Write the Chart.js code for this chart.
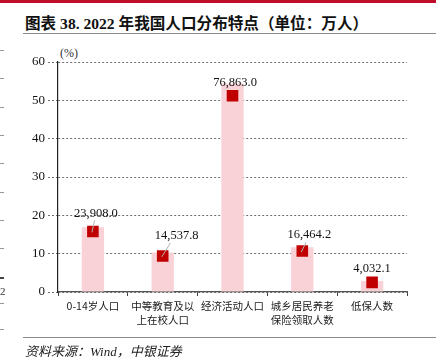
<!DOCTYPE html>
<html><head><meta charset="utf-8">
<script src="https://cdn.jsdelivr.net/npm/chart.js@4.4.1/dist/chart.umd.min.js"></script>
<style>
html,body{margin:0;padding:0;background:#fff;}
#wrap{position:relative;width:436px;height:364px;overflow:hidden;background:#fff;}
#topbar{position:absolute;left:0;top:0;width:436px;height:3px;background:#c00d2b;}
#title{position:absolute;left:25px;top:11px;font:bold 15.6px "Liberation Serif","Noto Sans CJK SC",serif;color:#111;white-space:nowrap;}
#rule1{position:absolute;left:23px;top:33px;width:413px;height:1px;background:#8a8a8a;}
#rule2{position:absolute;left:23px;top:337px;width:413px;height:1px;background:#8a8a8a;}
#src{position:absolute;left:25px;top:341px;font:italic 13px "Liberation Serif","Noto Sans CJK SC",serif;color:#222;white-space:nowrap;}
#unit{position:absolute;left:60px;top:46px;font:12px "Liberation Serif","Noto Sans CJK SC",serif;color:#333;}
.dash{position:absolute;left:0;width:4px;height:1px;background:#999;}
canvas{position:absolute;left:0;top:0;}
</style></head>
<body>
<div id="wrap">
  <div id="topbar"></div>
  <div id="title">图表 38. 2022 年我国人口分布特点（单位：万人）</div>
  <div id="rule1"></div>
  <div id="unit">(%)</div>
  <canvas id="c" width="436" height="364"></canvas>
  <div id="rule2"></div>
  <div id="src">资料来源：Wind，中银证券</div>
  <div class="dash" style="top:50px"></div>
  <div class="dash" style="top:78px"></div>
  <div class="dash" style="top:107px"></div>
  <div class="dash" style="top:135px"></div>
  <div class="dash" style="top:163px"></div>
  <div class="dash" style="top:192px"></div>
  <div class="dash" style="top:220px"></div>
  <div class="dash" style="top:248px"></div>
  <div class="dash" style="top:277px;height:2px;background:#444"></div>
  <div style="position:absolute;left:0;top:285px;font:11px 'Liberation Serif',serif;color:#333;">2</div>
  <div class="dash" style="top:303px"></div>
  <div class="dash" style="top:329px"></div>
</div>
<script>
const categories = ["0-14岁人口", ["中等教育及以", "上在校人口"], "经济活动人口", ["城乡居民养老", "保险领取人数"], "低保人数"];
const sharePct = [16.9, 10.3, 54.4, 11.7, 2.9];
const markerPct = [15.8, 9.4, 51.2, 10.7, 2.5];
const headcount = [23908.0, 14537.8, 76863.0, 16464.2, 4032.1];
const yTicks = [0, 10, 20, 30, 40, 50, 60];

// label offsets (styling) relative to marker, and whether to draw a leader line
const labelOffsets = [[3, -18, true], [14, -20, true], [2.5, -13, false], [7, -16, true], [0, -13.5, false]];

const labelPlugin = {
  id: 'labels',
  afterDatasetsDraw(chart) {
    const ctx = chart.ctx;
    const meta = chart.getDatasetMeta(1);
    ctx.save();
    ctx.font = '12.5px "Liberation Serif", serif';
    ctx.textAlign = 'center';
    ctx.textBaseline = 'middle';
    meta.data.forEach((pt, i) => {
      const [dx, dy, line] = labelOffsets[i];
      const lx = pt.x + dx, ly = pt.y + dy;
      if (line) {
        ctx.strokeStyle = '#b0b0b0';
        ctx.lineWidth = 1;
        ctx.beginPath();
        ctx.moveTo(lx - dx * 0.45, ly + 7);
        ctx.lineTo(pt.x - 1, pt.y + 1);
        ctx.stroke();
      }
      ctx.fillStyle = '#111';
      const txt = headcount[i].toLocaleString('en-US', {minimumFractionDigits: 1, maximumFractionDigits: 1});
      ctx.fillText(txt, lx, ly);
    });
    ctx.restore();
  }
};

new Chart(document.getElementById('c'), {
  data: {
    labels: categories,
    datasets: [
      { type: 'bar', data: sharePct, backgroundColor: '#f9d2d7', barPercentage: 0.32, categoryPercentage: 1, order: 2 },
      { type: 'line', data: markerPct, showLine: false, pointStyle: 'rect', pointRadius: 8.2, pointHoverRadius: 8.2,
        pointBackgroundColor: '#c00000', pointBorderColor: '#c00000', pointBorderWidth: 0, order: 1 }
    ]
  },
  options: {
    responsive: false,
    animation: false,
    events: [],
    layout: { padding: { left: 0, right: 29, top: 62, bottom: 32 } },
    plugins: { legend: { display: false }, tooltip: { enabled: false } },
    scales: {
      x: {
        offset: true,
        grid: { display: true, offset: true, drawOnChartArea: false, drawTicks: true, tickLength: 4, color: '#444', tickColor: '#444' },
        border: { display: true, color: '#555', width: 1.2 },
        ticks: { color: '#1a1a1a', font: { family: '"Noto Sans CJK SC", sans-serif', size: 10.5, lineHeight: 1.35 }, padding: 3, maxRotation: 0, autoSkip: false },
        afterFit: s => { s.height = 40; }
      },
      y: {
        min: 0, max: 60,
        afterBuildTicks: s => { s.ticks = yTicks.map(v => ({ value: v })); },
        grid: { color: '#6e6e6e', lineWidth: 1, tickLength: 10, tickColor: '#6e6e6e', tickBorderDash: [2, 2] },
        border: { display: true, color: '#222', width: 1.2, dash: [2, 2] },
        ticks: { color: '#111', font: { family: '"Liberation Serif", serif', size: 13 }, padding: 3 },
        afterFit: s => { s.width = 58; }
      }
    }
  },
  plugins: [labelPlugin]
});
</script>
</body></html>
